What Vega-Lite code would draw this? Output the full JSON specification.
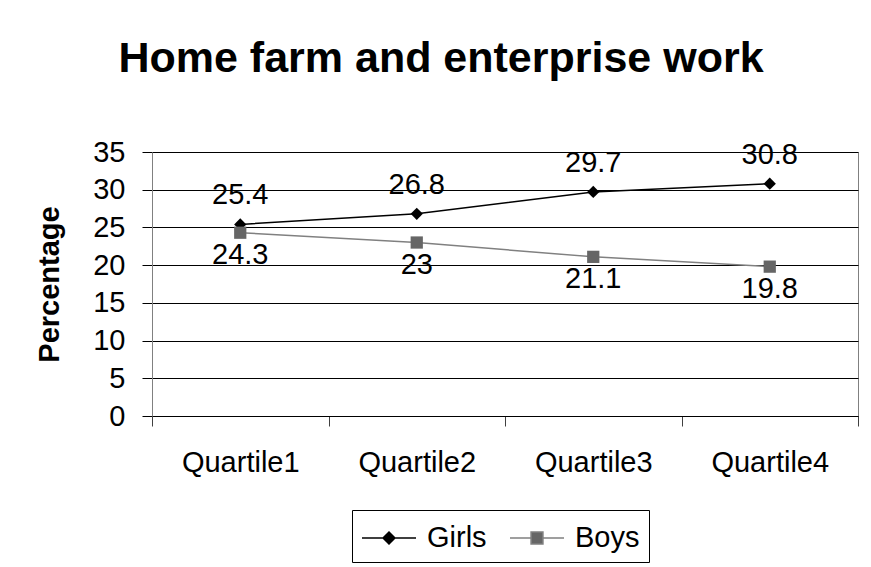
{
  "$schema": "https://vega.github.io/schema/vega-lite/v6.json",
  "autosize": "none",
  "width": 706,
  "height": 264,
  "padding": {"left": 152, "top": 152, "right": 13, "bottom": 151},
  "background": "white",
  "title": {
    "text": "Home farm and enterprise work",
    "font": "Liberation Sans",
    "fontSize": 43,
    "fontWeight": "bold",
    "color": "black",
    "anchor": "middle",
    "baseline": "alphabetic",
    "dx": -64,
    "offset": 23
  },
  "config": {
    "font": "Liberation Sans",
    "view": {"stroke": "#808080", "strokeWidth": 1}
  },
  "data": {
    "values": [
      {"quartile": "Quartile1", "series": "Girls", "value": 25.4},
      {"quartile": "Quartile2", "series": "Girls", "value": 26.8},
      {"quartile": "Quartile3", "series": "Girls", "value": 29.7},
      {"quartile": "Quartile4", "series": "Girls", "value": 30.8},
      {"quartile": "Quartile1", "series": "Boys", "value": 24.3},
      {"quartile": "Quartile2", "series": "Boys", "value": 23},
      {"quartile": "Quartile3", "series": "Boys", "value": 21.1},
      {"quartile": "Quartile4", "series": "Boys", "value": 19.8}
    ]
  },
  "encoding": {
    "x": {
      "field": "quartile",
      "type": "nominal",
      "scale": {"type": "band", "paddingInner": 0, "paddingOuter": 0},
      "axis": {
        "title": null,
        "labelAngle": 0,
        "labelFont": "Liberation Sans",
        "labelFontSize": 29,
        "labelColor": "black",
        "labelPadding": 22,
        "tickBand": "extent",
        "tickSize": 10,
        "tickColor": "#404040",
        "domainColor": "black",
        "grid": false
      }
    },
    "y": {
      "field": "value",
      "type": "quantitative",
      "scale": {"domain": [0, 35], "nice": false},
      "axis": {
        "title": "Percentage",
        "titleFont": "Liberation Sans",
        "titleFontSize": 29,
        "titleFontWeight": "bold",
        "titleColor": "black",
        "titlePadding": 28,
        "values": [0, 5, 10, 15, 20, 25, 30, 35],
        "labelFont": "Liberation Sans",
        "labelFontSize": 29,
        "labelColor": "black",
        "labelPadding": 17,
        "tickSize": 10,
        "tickColor": "black",
        "domainColor": "#808080",
        "grid": true,
        "gridColor": "black",
        "gridWidth": 1
      }
    }
  },
  "layer": [
    {
      "mark": {"type": "line", "strokeWidth": 1.5},
      "encoding": {
        "color": {
          "field": "series",
          "type": "nominal",
          "scale": {"domain": ["Girls", "Boys"], "range": ["black", "#808080"]},
          "legend": {
            "title": null,
            "orient": "none",
            "legendX": 200,
            "legendY": 358,
            "direction": "horizontal",
            "strokeColor": "black",
            "fillColor": "white",
            "padding": 9,
            "labelFont": "Liberation Sans",
            "labelFontSize": 29,
            "labelColor": "black",
            "labelOffset": 28,
            "columnPadding": 20,
            "symbolSize": 1296,
            "symbolStrokeWidth": 1.5,
            "encode": {
              "symbols": {
                "update": {
                  "shape": {"signal": "datum.value === 'Girls' ? 'M-1,0H2M0.5,-0.33L0.83,0L0.5,0.33L0.17,0Z' : 'M-1,0H0.17M0.83,0H2M0.17,-0.33H0.83V0.33H0.17Z'"},
                  "fill": {"signal": "datum.value === 'Girls' ? '#000000' : '#666666'"},
                  "stroke": {"signal": "datum.value === 'Girls' ? '#000000' : '#808080'"},
                  "fillOpacity": {"value": 1},
                  "strokeWidth": {"value": 1.5}
                }
              }
            }
          }
        }
      }
    },
    {
      "transform": [{"filter": "datum.series === 'Girls'"}],
      "mark": {"type": "point", "shape": "diamond", "filled": true, "size": 150, "color": "black", "opacity": 1}
    },
    {
      "transform": [{"filter": "datum.series === 'Boys'"}],
      "mark": {"type": "point", "shape": "square", "filled": true, "size": 150, "color": "#666666", "opacity": 1}
    },
    {
      "transform": [{"filter": "datum.series === 'Girls'"}],
      "mark": {"type": "text", "fontSize": 29, "font": "Liberation Sans", "color": "black", "align": "center", "baseline": "middle", "dy": -29},
      "encoding": {"text": {"field": "value", "type": "nominal"}}
    },
    {
      "transform": [{"filter": "datum.series === 'Boys'"}],
      "mark": {"type": "text", "fontSize": 29, "font": "Liberation Sans", "color": "black", "align": "center", "baseline": "middle", "dy": 22},
      "encoding": {"text": {"field": "value", "type": "nominal"}}
    }
  ]
}
